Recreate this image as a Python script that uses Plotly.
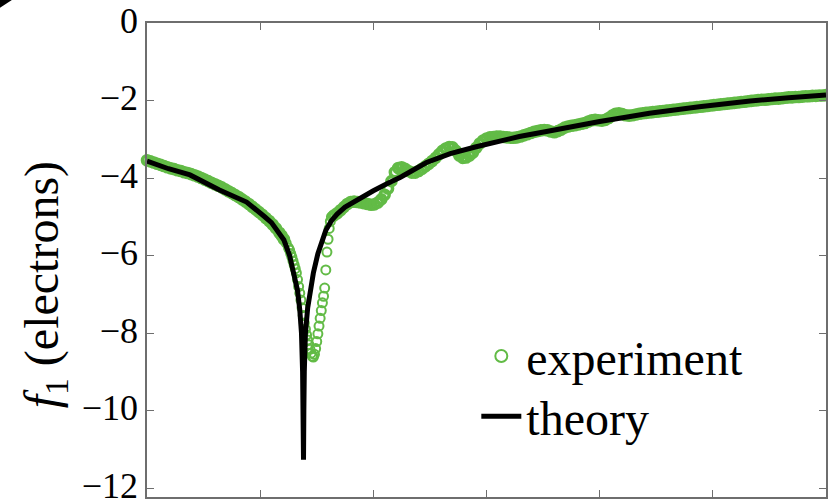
import plotly.graph_objects as go

# ---- data ----
theory_x = [0.00, 0.19, 0.38, 0.64, 0.88, 0.95, 1.04, 1.10, 1.15, 1.21, 1.26, 1.30, 1.33, 1.35,
            1.365, 1.375, 1.38, 1.383, 1.386, 1.39, 1.40, 1.42, 1.44, 1.47, 1.51, 1.54, 1.58,
            1.63, 1.68, 1.75, 1.86, 1.91, 2.00, 2.12, 2.24, 2.47, 2.68, 2.90, 3.12, 3.29, 3.53,
            3.76, 4.00, 4.23, 4.44, 4.88, 5.33, 5.67, 6.00]
theory_y = [-3.56, -3.76, -3.92, -4.31, -4.62, -4.77, -5.00, -5.15, -5.34, -5.60, -6.00, -6.45,
            -6.90, -7.40, -8.00, -9.00, -10.00, -11.27, -10.00, -9.00, -8.00, -7.35, -6.95,
            -6.45, -5.95, -5.65, -5.35, -5.10, -4.93, -4.75, -4.55, -4.47, -4.33, -4.15, -3.98,
            -3.60, -3.37, -3.20, -3.03, -2.93, -2.80, -2.66, -2.54, -2.43, -2.33, -2.16, -2.01,
            -1.93, -1.86]

exp_x = [0.00, 0.03, 0.06, 0.09, 0.12, 0.15, 0.18, 0.21, 0.24, 0.27, 0.30, 0.33, 0.36, 0.39,
         0.42, 0.45, 0.48, 0.51, 0.54, 0.57, 0.60, 0.63, 0.66, 0.69, 0.72, 0.75, 0.78, 0.81,
         0.84, 0.87, 0.90, 0.93, 0.96, 0.99, 1.02, 1.05, 1.08, 1.11, 1.14, 1.17, 1.19, 1.21,
         1.23, 1.25, 1.26, 1.27, 1.28, 1.29, 1.30, 1.31, 1.32, 1.33, 1.34, 1.35, 1.36, 1.37,
         1.38, 1.39, 1.40, 1.41, 1.42, 1.43, 1.44, 1.45, 1.46, 1.47, 1.48, 1.49, 1.50, 1.51,
         1.52, 1.53, 1.54, 1.55, 1.56, 1.57, 1.58, 1.59, 1.60, 1.61, 1.62, 1.63,
         1.65, 1.68, 1.71, 1.74, 1.77, 1.80, 1.83, 1.86, 1.89, 1.92, 1.95, 1.98, 2.01, 2.04,
         2.07, 2.10, 2.13, 2.16, 2.19, 2.22, 2.25, 2.28, 2.31, 2.34, 2.37, 2.40, 2.43, 2.46,
         2.49, 2.52, 2.55, 2.58, 2.61, 2.64, 2.67, 2.70, 2.73, 2.76, 2.79, 2.82, 2.85, 2.88,
         2.91, 2.94, 2.97, 3.00, 3.03, 3.06, 3.09, 3.12, 3.15, 3.18, 3.21, 3.24, 3.27, 3.30,
         3.33, 3.36, 3.39, 3.42, 3.45, 3.48, 3.51, 3.54, 3.57, 3.60, 3.63, 3.66, 3.69, 3.72,
         3.75, 3.78, 3.81, 3.84, 3.87, 3.90, 3.93, 3.96, 3.99, 4.02, 4.05, 4.08, 4.11, 4.14,
         4.17, 4.20, 4.23, 4.26, 4.29, 4.32, 4.35, 4.38, 4.41, 4.44, 4.47, 4.50, 4.53, 4.56,
         4.59, 4.62, 4.65, 4.68, 4.71, 4.74, 4.77, 4.80, 4.83, 4.86, 4.89, 4.92, 4.95, 4.98,
         5.01, 5.04, 5.07, 5.10, 5.13, 5.16, 5.19, 5.22, 5.25, 5.28, 5.31, 5.34, 5.37, 5.40,
         5.43, 5.46, 5.49, 5.52, 5.55, 5.58, 5.61, 5.64, 5.67, 5.70, 5.73, 5.76, 5.79, 5.82,
         5.85, 5.88, 5.91, 5.94, 5.97, 6.00]
exp_y = [-3.54, -3.57, -3.60, -3.63, -3.66, -3.69, -3.72, -3.75, -3.77, -3.80, -3.82, -3.85,
         -3.87, -3.90, -3.93, -3.96, -4.00, -4.04, -4.08, -4.12, -4.16, -4.20, -4.24, -4.29,
         -4.34, -4.39, -4.44, -4.49, -4.55, -4.61, -4.67, -4.74, -4.81, -4.88, -4.95, -5.03,
         -5.11, -5.20, -5.30, -5.41, -5.49, -5.58, -5.68, -5.80, -5.86, -5.95, -6.04, -6.14,
         -6.24, -6.34, -6.45, -6.62, -6.80, -6.97, -7.15, -7.35, -7.55, -7.74, -7.90, -8.05,
         -8.18, -8.30, -8.42, -8.52, -8.60, -8.62, -8.55, -8.40, -8.22, -8.02, -7.82, -7.62,
         -7.42, -7.22, -7.05, -6.84, -6.37, -5.91, -5.58, -5.30, -5.12, -5.00,
         -4.97, -4.91, -4.83, -4.75, -4.67, -4.62, -4.61, -4.62, -4.63, -4.65, -4.67, -4.69,
         -4.68, -4.63, -4.55, -4.43, -4.27, -4.08, -3.85, -3.74, -3.72, -3.76, -3.82, -3.86,
         -3.86, -3.82, -3.76, -3.70, -3.63, -3.56, -3.48, -3.39, -3.30, -3.24, -3.20, -3.21,
         -3.30, -3.42, -3.48, -3.47, -3.42, -3.34, -3.22, -3.11, -3.03, -2.98, -2.95, -2.94,
         -2.93, -2.93, -2.94, -2.95, -2.96, -2.96, -2.95, -2.93, -2.90, -2.87, -2.84, -2.81,
         -2.79, -2.77, -2.76, -2.77, -2.80, -2.82, -2.79, -2.75, -2.70, -2.67, -2.65, -2.64,
         -2.62, -2.60, -2.58, -2.54, -2.51, -2.50, -2.51, -2.52, -2.50, -2.45, -2.39, -2.34,
         -2.33, -2.35, -2.38, -2.39, -2.38, -2.36, -2.34, -2.33, -2.32, -2.31, -2.30, -2.29,
         -2.28, -2.27, -2.26, -2.25, -2.24, -2.23, -2.22, -2.21, -2.20, -2.19, -2.18, -2.17,
         -2.16, -2.15, -2.14, -2.13, -2.12, -2.11, -2.10, -2.09, -2.08, -2.07, -2.06, -2.05,
         -2.04, -2.03, -2.02, -2.01, -2.00, -1.99, -1.98, -1.98, -1.97, -1.96, -1.95, -1.95,
         -1.94, -1.93, -1.92, -1.92, -1.91, -1.91, -1.90, -1.89, -1.89, -1.88, -1.88, -1.87,
         -1.87, -1.86]

y_ticks = [0, -2, -4, -6, -8, -10, -12]
y_tick_text = ["0", "\u22122", "\u22124", "\u22126", "\u22128", "\u221210", "\u221212"]
x_ticks = [0, 1, 2, 3, 4, 5, 6]
y_title = "<i>f</i><sub>1</sub> (electrons)"

GREEN = "#62BB46"
FONT = "Liberation Serif, Times New Roman, serif"

# where the measured points crowd together, their open circles merge into a solid band;
# near the dip (sparse points) the circles stay thin rings
ring_widths = [3.6 if (x < 1.22 or x > 1.635) else 2.0 for x in exp_x]

fig = go.Figure()
fig.add_trace(go.Scatter(
    x=exp_x, y=exp_y, mode="markers", name="experiment", legend="legend",
    marker=dict(symbol="circle-open", size=9, color=GREEN,
                line=dict(width=ring_widths, color=GREEN)),
    cliponaxis=False,
))
fig.add_trace(go.Scatter(
    x=theory_x, y=theory_y, mode="lines", name="theory", legend="legend2",
    line=dict(color="black", width=5),
    cliponaxis=False,
))

axis_common = dict(showline=True, linecolor="#6e6e6e", linewidth=1.5, mirror="ticks",
                   ticks="inside", ticklen=7, tickwidth=1.2, tickcolor="#6e6e6e",
                   showgrid=False, zeroline=False)

legend_common = dict(xanchor="left", yanchor="top", bgcolor="rgba(0,0,0,0)",
                     font=dict(family=FONT, size=48, color="black"), itemwidth=40)

fig.update_layout(
    width=828, height=499,
    margin=dict(l=147, r=2, t=23, b=2, autoexpand=False),
    paper_bgcolor="white", plot_bgcolor="white",
    font=dict(family=FONT, color="black", size=36),
    showlegend=True,
    legend=dict(x=0.485, y=0.377, itemsizing="constant", **legend_common),
    legend2=dict(x=0.485, y=0.250, **legend_common),
    xaxis=dict(range=[0, 6], tickvals=x_ticks, showticklabels=False, **axis_common),
    yaxis=dict(range=[-12.23, 0], tickvals=y_ticks, ticktext=y_tick_text,
               tickfont=dict(family=FONT, size=36, color="black"),
               ticklabeloverflow="allow", ticklabelshift=-3,
               **axis_common),
    annotations=[dict(text=y_title, textangle=-90, xref="paper", yref="paper",
                      x=-0.150, y=0.447, xanchor="center", yanchor="middle",
                      showarrow=False, font=dict(family=FONT, size=48, color="black"))],
    shapes=[dict(type="path", xref="paper", yref="paper",
                 path="M -0.2165 1.0485 L -0.199 1.0485 L -0.2165 1.032 Z",
                 fillcolor="black", line=dict(width=0))],
)

fig.write_html("out.html", config={"displayModeBar": False},
               post_script="document.body.style.margin='0';document.body.style.padding='0';")
